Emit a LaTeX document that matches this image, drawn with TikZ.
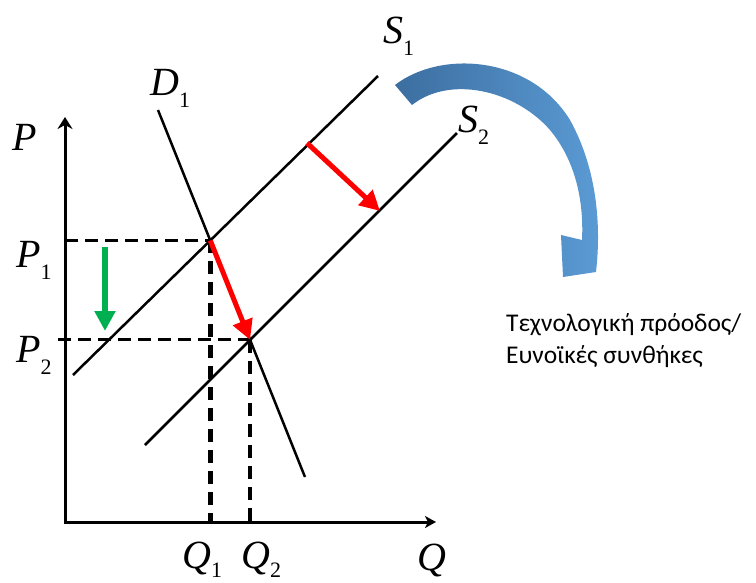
\documentclass[tikz,border=0pt]{standalone}
\usepackage{fontspec}
\setmainfont{Liberation Serif}
\newfontfamily\grk{Carlito}
\usetikzlibrary{arrows.meta}
\definecolor{redA}{RGB}{255,0,0}
\definecolor{greenA}{RGB}{0,176,80}
\definecolor{blueL}{RGB}{60,110,160}
\definecolor{blueR}{RGB}{91,155,213}
\newcommand{\econlab}[3][12pt]{\textit{#2}\raisebox{-#1}{\fontsize{22}{22}\selectfont #3}}
\begin{document}
\begin{tikzpicture}[x=1pt,y=-1pt,
  curve/.style={line width=2.5pt},
  axis/.style={line width=3pt},
  guide/.style={line width=3pt,dash pattern=on 13pt off 7pt},
  guidev/.style={line width=4.5pt,dash pattern=on 13pt off 8pt},
  lbl/.style={inner sep=0pt,anchor=base west,font=\fontsize{40}{40}\selectfont},
  shiftarrow/.style={line width=5pt,-{Triangle[length=20pt,width=20pt]}},
]
\useasboundingbox (0,0) rectangle (756,582);
% key points
\coordinate (O) at (65,522);
\coordinate (Ytop) at (65,117);
\coordinate (Xend) at (436,522);
\coordinate (D1a) at (158,110);
\coordinate (D1b) at (305,477);
\coordinate (S1a) at (73,375);
\coordinate (S1b) at (378,76);
\coordinate (S2a) at (145,445);
\coordinate (S2b) at (457,133);
\coordinate (E1) at (intersection of D1a--D1b and S1a--S1b);
\coordinate (E2) at (intersection of D1a--D1b and S2a--S2b);
\coordinate (P1) at (O |- E1);
\coordinate (P2) at ([xshift=-7pt]O |- E2);
\coordinate (Q1) at (E1 |- O);
\coordinate (Q2) at (E2 |- O);
\coordinate (R1) at (307,143);
\coordinate (R2) at (380,211);
\coordinate (G1) at (105,247);
\coordinate (G2) at (105,331);
% guides
\draw[guide] (P1) -- (E1);
\draw[guide] (P2) -- (E2);
\draw[guidev] (E1) -- (Q1);
\draw[guidev] (E2) -- (Q2);
% axes
\draw[axis,{Stealth[length=12pt,width=15pt,inset=4pt]}-{Stealth[length=11pt,width=12pt,inset=3pt]}] (Ytop) -- (O) -- (Xend);
% curves
\draw[curve] (D1a) -- (D1b);
\draw[curve] (S1a) -- (S1b);
\draw[curve] (S2a) -- (S2b);
% shift arrows
\draw[shiftarrow,redA] (R1) -- (R2);
\draw[shiftarrow,redA] (E1) -- (E2);
\draw[shiftarrow,greenA,line width=6pt] (G1) -- (G2);
% curved blue arrow
\shade[left color=blueL,right color=blueR]
  (395,85) .. controls (440,50) and (530,55) .. (570,120)
  .. controls (595,165) and (602,220) .. (596,272)
  -- (563,277) -- (561,235) -- (582,240)
  .. controls (584,200) and (575,160) .. (550,130)
  .. controls (515,90) and (450,75) .. (412,105) -- cycle;
% labels
\node[lbl] (Plab) at (12,150) {\textit{P}};
\node[lbl] (P1lab) at (16,267) {\econlab{P}{1}};
\node[lbl] (P2lab) at (16,362) {\econlab{P}{2}};
\node[lbl] (Q1lab) at (182,568) {\econlab[9pt]{Q}{1}};
\node[lbl] (Q2lab) at (241,568) {\econlab[9pt]{Q}{2}};
\node[lbl] (Qlab) at (417,570) {\textit{Q}};
\node[lbl] (D1lab) at (150,95) {\econlab{D}{1}};
\node[lbl] (S1lab) at (383,43) {\econlab{S}{1}};
\node[lbl] (S2lab) at (458,132) {\econlab{S}{2}};
\node[font=\grk\fontsize{25.5}{32}\selectfont,align=left,anchor=north west,inner sep=0pt] (tech) at (506,313) {Τεχνολογική πρόοδος/\\Ευνοϊκές συνθήκες};
\end{tikzpicture}
\end{document}
